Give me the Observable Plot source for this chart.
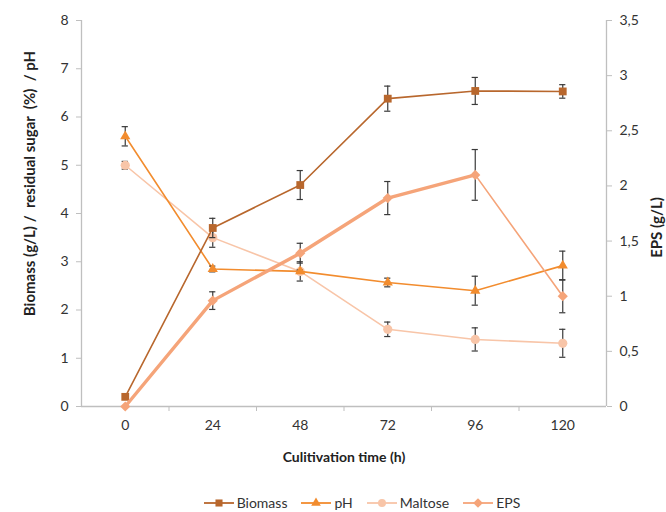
<!DOCTYPE html>
<html>
<head>
<meta charset="utf-8">
<script src="https://cdn.jsdelivr.net/npm/d3@7"></script>
<script src="https://cdn.jsdelivr.net/npm/@observablehq/plot@0.6"></script>
<style>
  body { margin: 0; background: #fff; font-family: Lato, "Open Sans", sans-serif; }
  #chart { width: 666px; }
  .legend { display: flex; justify-content: center; gap: 14px; padding-top: 24px; padding-left: 58px; font-size: 14px; color: #333; }
  .legend .item { display: flex; align-items: center; gap: 3px; }
</style>
</head>
<body>
<div id="chart"></div>
<script>
// Time points (h)
const times = [0, 24, 48, 72, 96, 120];
const xTickLabels = [0, 24, 48, 72, 96, 120];
const leftTicks = [0, 1, 2, 3, 4, 5, 6, 7, 8];
const rightTicks = [0, 0.5, 1, 1.5, 2, 2.5, 3, 3.5];

// Series (left axis)
const biomass    = [0.2, 3.7, 4.59, 6.38, 6.54, 6.53];
const biomassErr = [0,   0.2, 0.3,  0.26, 0.28, 0.14];
const pH         = [5.6, 2.85, 2.8, 2.57, 2.4, 2.92];
const pHErr      = [0.2, 0.06, 0.03, 0.09, 0.3, 0.3];
const maltose    = [5.0, 3.5, 2.8, 1.6, 1.39, 1.31];
const maltoseErr = [0.08, 0.2, 0.2, 0.15, 0.24, 0.29];
// Series (right axis, g/L)
const eps        = [0, 0.96, 1.39, 1.89, 2.1, 1.0];
const epsErr     = [0, 0.08, 0.09, 0.15, 0.23, 0.15];

const leftMax = 8, rightMax = 3.5;
const k = leftMax / rightMax;

const colors = { biomass: "#b8672d", pH: "#f28c2e", maltose: "#f8c5a8", eps: "#f5a479" };
const errColor = "#3a3a3a";

function rows(vals, errs, s = 1) {
  return times.map((t, i) => ({ t, v: vals[i] * s, lo: (vals[i] - errs[i]) * s, hi: (vals[i] + errs[i]) * s, e: errs[i] }));
}
const dBiomass = rows(biomass, biomassErr);
const dpH = rows(pH, pHErr);
const dMaltose = rows(maltose, maltoseErr);
const dEps = rows(eps, epsErr, k);

const capHalf = 0.85; // in x units (hours)
function errMarks(data) {
  const d = data.filter(r => r.e > 0);
  return [
    Plot.ruleX(d, { x: "t", y1: "lo", y2: "hi", stroke: errColor, strokeWidth: 1.2 }),
    Plot.ruleY(d, { y: "lo", x1: r => r.t - capHalf, x2: r => r.t + capHalf, stroke: errColor, strokeWidth: 1.2 }),
    Plot.ruleY(d, { y: "hi", x1: r => r.t - capHalf, x2: r => r.t + capHalf, stroke: errColor, strokeWidth: 1.2 })
  ];
}

const boundaries = times.slice(0, -1).map(t => t + 12);
const axisColor = "#bfbfbf";
const fmtComma = d => String(Math.round(d / k * 10) / 10).replace(".", ",");

const plot = Plot.plot({
  width: 666,
  height: 470,
  marginLeft: 81,
  marginRight: 60,
  marginTop: 20,
  marginBottom: 64,
  style: { fontFamily: "Lato, 'Open Sans', sans-serif", fontSize: "14px", color: "#333", background: "#fff" },
  x: { domain: [-12, 132] },
  y: { domain: [0, leftMax] },
  marks: [
    Plot.ruleY([0], { stroke: axisColor, strokeWidth: 1.3 }),
    Plot.ruleX([-12, 132], { stroke: axisColor, strokeWidth: 1.3 }),
    Plot.axisX({ ticks: xTickLabels, tickSize: 0, tickPadding: 14, label: null }),
    Plot.axisX({ ticks: boundaries, tickSize: 5, tickFormat: () => "", label: null, stroke: axisColor }),
    Plot.axisY({ ticks: leftTicks, tickSize: 5, tickPadding: 8, label: null, stroke: axisColor }),
    Plot.axisY(rightTicks.map(v => v * k), { anchor: "right", tickSize: 5, tickPadding: 8, tickFormat: fmtComma, label: null, stroke: axisColor, textAnchor: "start" }),
    Plot.text(["Biomass (g/L) /  residual sugar  (%)  / pH"], { frameAnchor: "left", dx: -51, dy: -30, rotate: -90, textAnchor: "middle", lineAnchor: "middle", fontWeight: "bold", fontSize: 15, fill: "#222" }),
    Plot.text(["EPS (g/L)"], { frameAnchor: "right", dx: 51, dy: 14, rotate: -90, textAnchor: "middle", lineAnchor: "middle", fontWeight: "bold", fontSize: 15, fill: "#222" }),
    Plot.text(["Culitivation time (h)"], { frameAnchor: "bottom", dy: 51, textAnchor: "middle", lineAnchor: "middle", fontWeight: "bold", fontSize: 14, fill: "#222" }),

    // Maltose
    Plot.line(dMaltose, { x: "t", y: "v", stroke: colors.maltose, strokeWidth: 1.6 }),
    ...errMarks(dMaltose),
    Plot.dot(dMaltose, { x: "t", y: "v", symbol: "circle", r: 4.6, fill: colors.maltose, stroke: "none" }),
    // pH
    Plot.line(dpH, { x: "t", y: "v", stroke: colors.pH, strokeWidth: 1.6 }),
    ...errMarks(dpH),
    Plot.dot(dpH, { x: "t", y: "v", symbol: "triangle", r: 3.8, fill: colors.pH, stroke: "none" }),
    // Biomass
    Plot.line(dBiomass, { x: "t", y: "v", stroke: colors.biomass, strokeWidth: 1.6 }),
    ...errMarks(dBiomass),
    Plot.dot(dBiomass, { x: "t", y: "v", symbol: "square", r: 4.4, fill: colors.biomass, stroke: "none" }),
    // EPS (right axis)
    Plot.line(dEps.filter(d => d.t <= 96), { x: "t", y: "v", stroke: colors.eps, strokeWidth: 3.4 }),
    Plot.line(dEps.filter(d => d.t >= 96), { x: "t", y: "v", stroke: colors.eps, strokeWidth: 1.6 }),
    ...errMarks(dEps),
    Plot.dot(dEps, { x: "t", y: "v", symbol: "diamond2", r: 4.6, fill: colors.eps, stroke: "none" })
  ]
});
document.getElementById("chart").append(plot);

// Legend
const legendItems = [
  { name: "Biomass", color: colors.biomass, sym: "square" },
  { name: "pH", color: colors.pH, sym: "triangle" },
  { name: "Maltose", color: colors.maltose, sym: "circle" },
  { name: "EPS", color: colors.eps, sym: "diamond2" }
];
const symMap = { square: d3.symbolSquare, triangle: d3.symbolTriangle, circle: d3.symbolCircle, diamond2: d3.symbolDiamond2 };
const sizeMap = { square: 50, triangle: 40, circle: 50, diamond2: 60 };
const legend = d3.select("#chart").append("div").attr("class", "legend");
for (const it of legendItems) {
  const item = legend.append("div").attr("class", "item");
  const svg = item.append("svg").attr("width", 30).attr("height", 14);
  svg.append("line").attr("x1", 0).attr("x2", 30).attr("y1", 7).attr("y2", 7).attr("stroke", it.color).attr("stroke-width", 1.8);
  svg.append("path").attr("d", d3.symbol(symMap[it.sym], sizeMap[it.sym])()).attr("transform", "translate(15,7)").attr("fill", it.color);
  item.append("span").text(it.name);
}
</script>
</body>
</html>
